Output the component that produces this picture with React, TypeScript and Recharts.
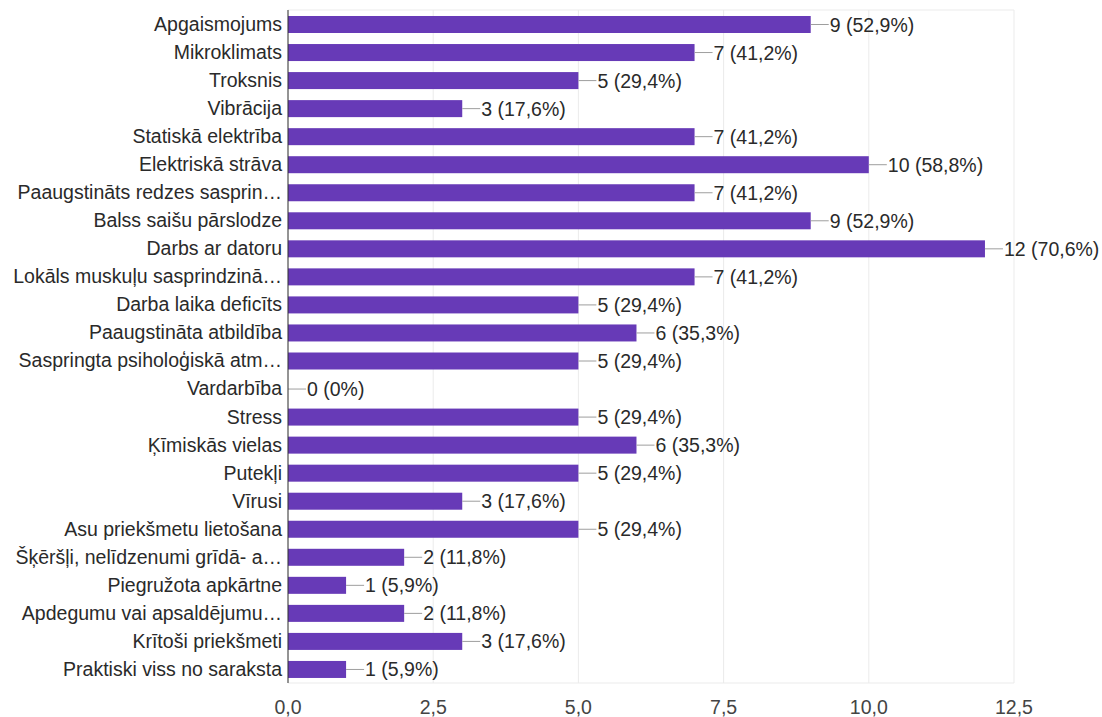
import React from 'react';
import { BarChart, Bar, XAxis, YAxis, CartesianGrid } from 'recharts';

const categories = [
  'Apgaismojums',
  'Mikroklimats',
  'Troksnis',
  'Vibrācija',
  'Statiskā elektrība',
  'Elektriskā strāva',
  'Paaugstināts redzes sasprin…',
  'Balss saišu pārslodze',
  'Darbs ar datoru',
  'Lokāls muskuļu sasprindzinā…',
  'Darba laika deficīts',
  'Paaugstināta atbildība',
  'Saspringta psiholoģiskā atm…',
  'Vardarbība',
  'Stress',
  'Ķīmiskās vielas',
  'Putekļi',
  'Vīrusi',
  'Asu priekšmetu lietošana',
  'Šķēršļi, nelīdzenumi grīdā- a…',
  'Piegružota apkārtne',
  'Apdegumu vai apsaldējumu…',
  'Krītoši priekšmeti',
  'Praktiski viss no saraksta'
];

const counts = [9, 7, 5, 3, 7, 10, 7, 9, 12, 7, 5, 6, 5, 0, 5, 6, 5, 3, 5, 2, 1, 2, 3, 1];

const percents = [
  '52,9', '41,2', '29,4', '17,6', '41,2', '58,8', '41,2', '52,9', '70,6', '41,2', '29,4', '35,3',
  '29,4', '0', '29,4', '35,3', '29,4', '17,6', '29,4', '11,8', '5,9', '11,8', '17,6', '5,9'
];

const xTicks = [0, 2.5, 5, 7.5, 10, 12.5];

const data = categories.map((name, i) => ({ name, count: counts[i], pct: percents[i] }));

const FONT = '"Liberation Sans", Arial, sans-serif';

// bar + leader line + value label, drawn per row so the 0 row keeps its label
const BarWithLabel = (props: any) => {
  const { x, y, width, height, payload, fill } = props;
  const w = payload && payload.count === 0 ? 0 : Number(width);
  const endX = Number(x) + w;
  const cy = Number(y) + Number(height) / 2;
  return (
    <g>
      {w > 0 && <rect x={x} y={y} width={w} height={height} fill={fill} />}
      <line x1={endX} y1={cy} x2={endX + 18} y2={cy} stroke="#9e9e9e" strokeWidth={1} />
      <text x={endX + 19} y={cy} dy="0.36em" fontSize={19.5} fontFamily={FONT} fill="#2a2a2a">
        {`${payload.count} (${payload.pct}%)`}
      </text>
    </g>
  );
};

export default function App() {
  return (
    <div style={{ position: 'absolute', left: 0, top: 0, background: '#fff' }}>
      <BarChart
        width={1102}
        height={717}
        data={data}
        layout="vertical"
        margin={{ top: 10, right: 88, bottom: 4, left: 0 }}
      >
        <CartesianGrid stroke="#ebebeb" horizontalPoints={[10, 683]} />
        <XAxis
          type="number"
          domain={[0, 12.5]}
          ticks={xTicks}
          height={30}
          axisLine={false}
          tickLine={false}
          tickSize={0}
          tickMargin={17}
          tickFormatter={(v: number) => v.toFixed(1).replace('.', ',')}
          tick={{ fontSize: 19.5, fontFamily: FONT, fill: '#444444' }}
        />
        <YAxis
          type="category"
          dataKey="name"
          width={288}
          interval={0}
          axisLine={{ stroke: '#333333' }}
          tickLine={false}
          tickSize={0}
          tickMargin={6}
          tick={{ fontSize: 19.5, fontFamily: FONT, fill: '#2a2a2a' }}
        />
        <Bar
          dataKey="count"
          fill="#673ab7"
          barSize={17}
          minPointSize={1}
          isAnimationActive={false}
          shape={BarWithLabel}
        />
      </BarChart>
    </div>
  );
}
